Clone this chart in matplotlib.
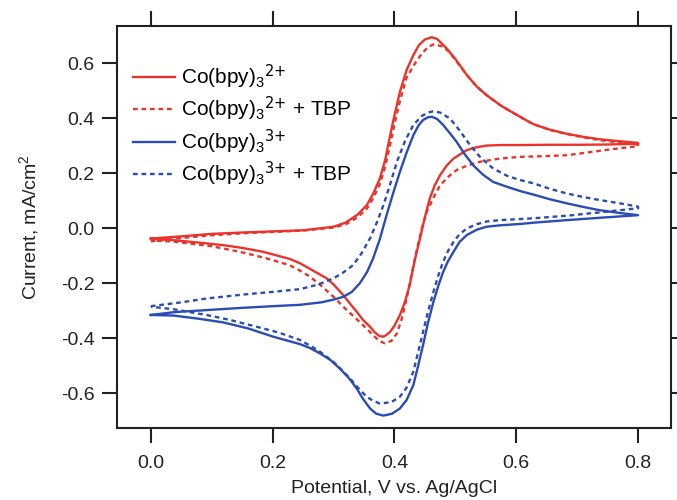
import matplotlib
matplotlib.use("Agg")
import matplotlib.pyplot as plt

plt.rcParams['font.family'] = ['Liberation Sans', 'DejaVu Sans']
plt.rcParams['mathtext.default'] = 'regular'

# Cyclic voltammograms: forward sweep (0 -> 0.8 V) and reverse sweep (0.8 -> 0 V)
# Co(bpy)3 2+
red_fwd_v = [0.00, 0.05, 0.10, 0.15, 0.20, 0.25, 0.30, 0.32, 0.34, 0.355, 0.365, 0.376,
             0.385, 0.393, 0.40, 0.409, 0.42, 0.431, 0.44, 0.45, 0.461, 0.47, 0.486, 0.50,
             0.519, 0.535, 0.551, 0.575, 0.606, 0.628, 0.655, 0.683, 0.71, 0.737, 0.77, 0.80]
red_fwd_i = [-0.038, -0.030, -0.021, -0.016, -0.012, -0.008, 0.005, 0.020, 0.050, 0.085, 0.125, 0.180,
             0.250, 0.338, 0.410, 0.496, 0.575, 0.629, 0.665, 0.686, 0.694, 0.688, 0.653, 0.615,
             0.556, 0.515, 0.484, 0.445, 0.405, 0.378, 0.358, 0.343, 0.332, 0.323, 0.316, 0.310]
red_rev_v = [0.80, 0.75, 0.70, 0.65, 0.606, 0.573, 0.551, 0.535, 0.519, 0.497, 0.486, 0.475,
             0.466, 0.458, 0.450, 0.442, 0.433, 0.425, 0.417, 0.409, 0.400, 0.393, 0.386, 0.381,
             0.375, 0.367, 0.360, 0.348, 0.338, 0.326, 0.316, 0.300, 0.289, 0.261, 0.245, 0.228,
             0.184, 0.15, 0.119, 0.08, 0.037, 0.00]
red_rev_i = [0.307, 0.304, 0.303, 0.303, 0.302, 0.302, 0.300, 0.294, 0.284, 0.253, 0.228, 0.193,
             0.155, 0.108, 0.040, -0.037, -0.120, -0.207, -0.270, -0.316, -0.355, -0.377, -0.390, -0.395,
             -0.392, -0.378, -0.359, -0.333, -0.304, -0.272, -0.244, -0.205, -0.183, -0.148, -0.128, -0.112,
             -0.086, -0.072, -0.062, -0.053, -0.044, -0.038]

# Co(bpy)3 2+ + TBP
red_tbp_fwd_v = [0.00, 0.05, 0.10, 0.15, 0.20, 0.25, 0.30, 0.32, 0.34, 0.355, 0.365, 0.376,
                 0.385, 0.393, 0.40, 0.409, 0.415, 0.42, 0.434, 0.445, 0.455, 0.464, 0.477, 0.488,
                 0.50, 0.519, 0.535, 0.551, 0.575, 0.606, 0.628, 0.655, 0.683, 0.71, 0.737, 0.77, 0.80]
red_tbp_fwd_i = [-0.048, -0.036, -0.026, -0.019, -0.014, -0.009, 0.002, 0.014, 0.040, 0.072, 0.108, 0.160,
                 0.225, 0.305, 0.378, 0.462, 0.510, 0.548, 0.600, 0.635, 0.658, 0.668, 0.662, 0.645,
                 0.612, 0.556, 0.515, 0.484, 0.445, 0.405, 0.378, 0.357, 0.342, 0.330, 0.320, 0.311, 0.304]
red_tbp_rev_v = [0.80, 0.75, 0.70, 0.683, 0.65, 0.606, 0.573, 0.540, 0.52, 0.502, 0.49, 0.475,
                 0.465, 0.453, 0.445, 0.436, 0.428, 0.420, 0.412, 0.404, 0.395, 0.384, 0.375, 0.365,
                 0.354, 0.335, 0.316, 0.30, 0.28, 0.261, 0.245, 0.228, 0.19, 0.146, 0.10, 0.037, 0.00]
red_tbp_rev_i = [0.298, 0.285, 0.270, 0.265, 0.262, 0.259, 0.253, 0.241, 0.228, 0.211, 0.190, 0.156,
                 0.115, 0.059, 0.000, -0.086, -0.170, -0.256, -0.330, -0.383, -0.410, -0.419, -0.410, -0.390,
                 -0.365, -0.325, -0.286, -0.250, -0.210, -0.176, -0.155, -0.135, -0.110, -0.086, -0.066, -0.049, -0.045]

# Co(bpy)3 3+
blue_fwd_v = [0.00, 0.037, 0.05, 0.10, 0.15, 0.20, 0.245, 0.28, 0.30, 0.316, 0.33, 0.343, 0.355,
              0.365, 0.376, 0.387, 0.398, 0.409, 0.42, 0.431, 0.44, 0.447, 0.455, 0.461, 0.47,
              0.48, 0.491, 0.502, 0.515, 0.529, 0.545, 0.562, 0.585, 0.606, 0.628, 0.655, 0.683,
              0.71, 0.737, 0.77, 0.80]
blue_fwd_i = [-0.316, -0.306, -0.304, -0.297, -0.290, -0.284, -0.279, -0.270, -0.260, -0.250, -0.232, -0.201, -0.160,
              -0.110, -0.040, 0.047, 0.128, 0.205, 0.275, 0.338, 0.375, 0.393, 0.403, 0.405, 0.397,
              0.375, 0.345, 0.314, 0.270, 0.229, 0.195, 0.168, 0.150, 0.135, 0.122, 0.105, 0.090,
              0.077, 0.065, 0.055, 0.047]
blue_rev_v = [0.80, 0.74, 0.683, 0.63, 0.606, 0.573, 0.551, 0.535, 0.519, 0.507, 0.497, 0.488,
              0.48, 0.472, 0.464, 0.455, 0.447, 0.439, 0.431, 0.42, 0.409, 0.396, 0.382, 0.37,
              0.360, 0.348, 0.338, 0.325, 0.310, 0.295, 0.278, 0.261, 0.245, 0.201, 0.16, 0.119,
              0.08, 0.037, 0.00]
blue_rev_i = [0.047, 0.038, 0.029, 0.020, 0.015, 0.010, 0.005, -0.006, -0.025, -0.050, -0.086, -0.120,
              -0.159, -0.210, -0.268, -0.345, -0.425, -0.500, -0.571, -0.625, -0.656, -0.675, -0.682, -0.675,
              -0.656, -0.620, -0.583, -0.545, -0.510, -0.480, -0.456, -0.436, -0.422, -0.395, -0.365, -0.343,
              -0.330, -0.318, -0.316]

# Co(bpy)3 3+ + TBP
blue_tbp_fwd_v = [0.00, 0.05, 0.0915, 0.15, 0.20, 0.245, 0.275, 0.2995, 0.315, 0.332, 0.345, 0.36,
                  0.371, 0.382, 0.393, 0.404, 0.418, 0.431, 0.445, 0.455, 0.464, 0.475, 0.491, 0.507,
                  0.524, 0.542, 0.562, 0.585, 0.606, 0.628, 0.655, 0.683, 0.71, 0.737, 0.77, 0.80]
blue_tbp_fwd_i = [-0.284, -0.270, -0.256, -0.242, -0.232, -0.222, -0.205, -0.183, -0.163, -0.135, -0.095, -0.037,
                  0.020, 0.084, 0.160, 0.241, 0.320, 0.375, 0.408, 0.420, 0.425, 0.420, 0.399, 0.355,
                  0.302, 0.255, 0.217, 0.190, 0.175, 0.163, 0.143, 0.126, 0.113, 0.102, 0.090, 0.078]
blue_tbp_rev_v = [0.80, 0.74, 0.683, 0.63, 0.606, 0.573, 0.551, 0.535, 0.519, 0.507, 0.497, 0.488,
                  0.48, 0.472, 0.464, 0.455, 0.447, 0.439, 0.431, 0.42, 0.409, 0.395, 0.376, 0.365,
                  0.354, 0.34, 0.327, 0.313, 0.2995, 0.275, 0.245, 0.21, 0.174, 0.13, 0.0915, 0.037, 0.00]
blue_tbp_rev_i = [0.072, 0.058, 0.045, 0.036, 0.033, 0.029, 0.024, 0.014, -0.001, -0.022, -0.050, -0.083,
                  -0.122, -0.172, -0.232, -0.305, -0.377, -0.450, -0.522, -0.580, -0.613, -0.633, -0.638, -0.628,
                  -0.613, -0.580, -0.547, -0.515, -0.486, -0.445, -0.407, -0.380, -0.359, -0.334, -0.316, -0.295, -0.286]

labels = [r'Co(bpy)$_3$$^{\text{2+}}$', r'Co(bpy)$_3$$^{\text{2+}}$ + TBP',
          r'Co(bpy)$_3$$^{\text{3+}}$', r'Co(bpy)$_3$$^{\text{3+}}$ + TBP']
x_ticks = [0.0, 0.2, 0.4, 0.6, 0.8]
y_ticks = [-0.6, -0.4, -0.2, 0.0, 0.2, 0.4, 0.6]

RED = '#e8342c'
BLUE = '#2a4cb3'
DOT = (0, (2.0, 1.6))

fig = plt.figure(figsize=(6.77, 5.0), dpi=100)
ax = fig.add_axes([0.1724, 0.144, 0.8187, 0.804])

series = [
    (red_fwd_v, red_fwd_i, red_rev_v, red_rev_i, RED, '-'),
    (red_tbp_fwd_v, red_tbp_fwd_i, red_tbp_rev_v, red_tbp_rev_i, RED, DOT),
    (blue_fwd_v, blue_fwd_i, blue_rev_v, blue_rev_i, BLUE, '-'),
    (blue_tbp_fwd_v, blue_tbp_fwd_i, blue_tbp_rev_v, blue_tbp_rev_i, BLUE, DOT),
]
for (fv, fi, rv, ri, color, ls), lab in zip(series, labels):
    ax.plot(fv + rv, fi + ri, color=color, linestyle=ls, lw=1.7, label=lab,
            solid_joinstyle='round')

ax.set_xlim(-0.056, 0.854)
ax.set_ylim(-0.727, 0.735)
ax.set_xticks(x_ticks)
ax.set_xticklabels([f'{t:.1f}' for t in x_ticks])
ax.set_yticks(y_ticks)
ax.set_yticklabels([f'{t:.1f}' for t in y_ticks])

for sp in ax.spines.values():
    sp.set_linewidth(1.5)
    sp.set_color('#222222')
ax.tick_params(axis='both', which='major', direction='out', length=11, width=1.5,
               colors='#222222', labelcolor='#222222', labelsize=14,
               top=True, right=True)
ax.tick_params(axis='x', pad=8.5)
ax.tick_params(axis='y', pad=5)

ax.set_xlabel('Potential, V vs. Ag/AgCl', fontsize=14, color='#222222', labelpad=6)
ax.set_ylabel('Current, mA/cm$^2$', fontsize=14, color='#222222', labelpad=14)

leg = ax.legend(loc='upper left', bbox_to_anchor=(0.015, 0.93), frameon=False,
                fontsize=15, handlelength=2.0, handletextpad=0.3, labelspacing=0.19,
                borderaxespad=0)

fig.savefig('out.png', dpi=100)
